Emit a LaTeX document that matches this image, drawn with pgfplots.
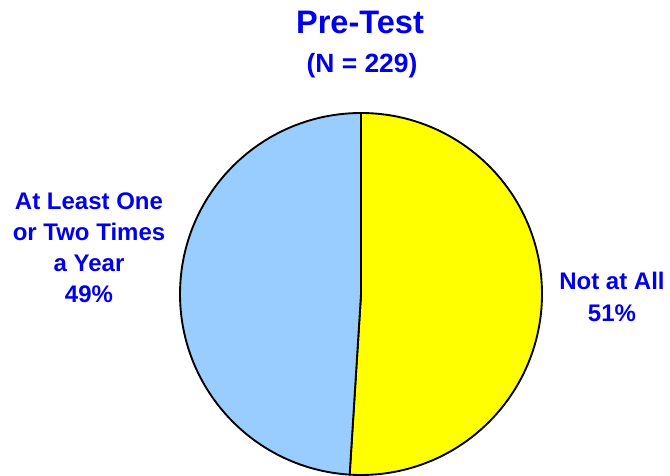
\documentclass[border=0pt]{standalone}
\usepackage{fontspec}
\setmainfont{Liberation Sans}
\usepackage{pgfplots}
\usepackage{pgfplotstable}
\pgfplotsset{compat=1.18}
\definecolor{pieyellow}{RGB}{255,255,0}
\definecolor{pieblue}{RGB}{153,204,255}
\definecolor{txtblue}{RGB}{0,0,238}
\pgfplotstableread{
label value
NotAtAll 51
AtLeast 49
}\piedata
\pgfplotstablegetelem{0}{value}\of\piedata
\let\vA\pgfplotsretval
\pgfmathsetmacro{\angA}{90-3.6*\vA}
\begin{document}
\begin{tikzpicture}
\begin{axis}[
  scale only axis, width=502.5pt, height=356.25pt,
  xmin=0, xmax=670, ymin=0, ymax=475,
  hide axis, clip=false]
\filldraw[fill=pieyellow, draw=black, line width=1.4pt, line join=round]
  (axis cs:361,181) -- ++(90:135.75pt) arc[start angle=90, end angle=\angA, radius=135.75pt] -- cycle;
\filldraw[fill=pieblue, draw=black, line width=1.4pt, line join=round]
  (axis cs:361,181) -- ++(\angA:135.75pt) arc[start angle=\angA, end angle=-270, radius=135.75pt] -- cycle;
\node[txtblue, font=\bfseries\fontsize{24.4}{28}\selectfont] at (axis cs:360,453) {Pre-Test};
\node[txtblue, font=\bfseries\fontsize{19.8}{23}\selectfont] at (axis cs:362,409) {(N = 229)};
\node[txtblue, align=center, font=\bfseries\fontsize{18}{23.3}\selectfont] at (axis cs:89,227) {At Least One\\or Two Times\\a Year\\49\%};
\node[txtblue, align=center, font=\bfseries\fontsize{18}{23.8}\selectfont] at (axis cs:612,178) {Not at All\\51\%};
\end{axis}
\pgfresetboundingbox
\path (current axis.south west) rectangle (current axis.north east);
\end{tikzpicture}
\end{document}
